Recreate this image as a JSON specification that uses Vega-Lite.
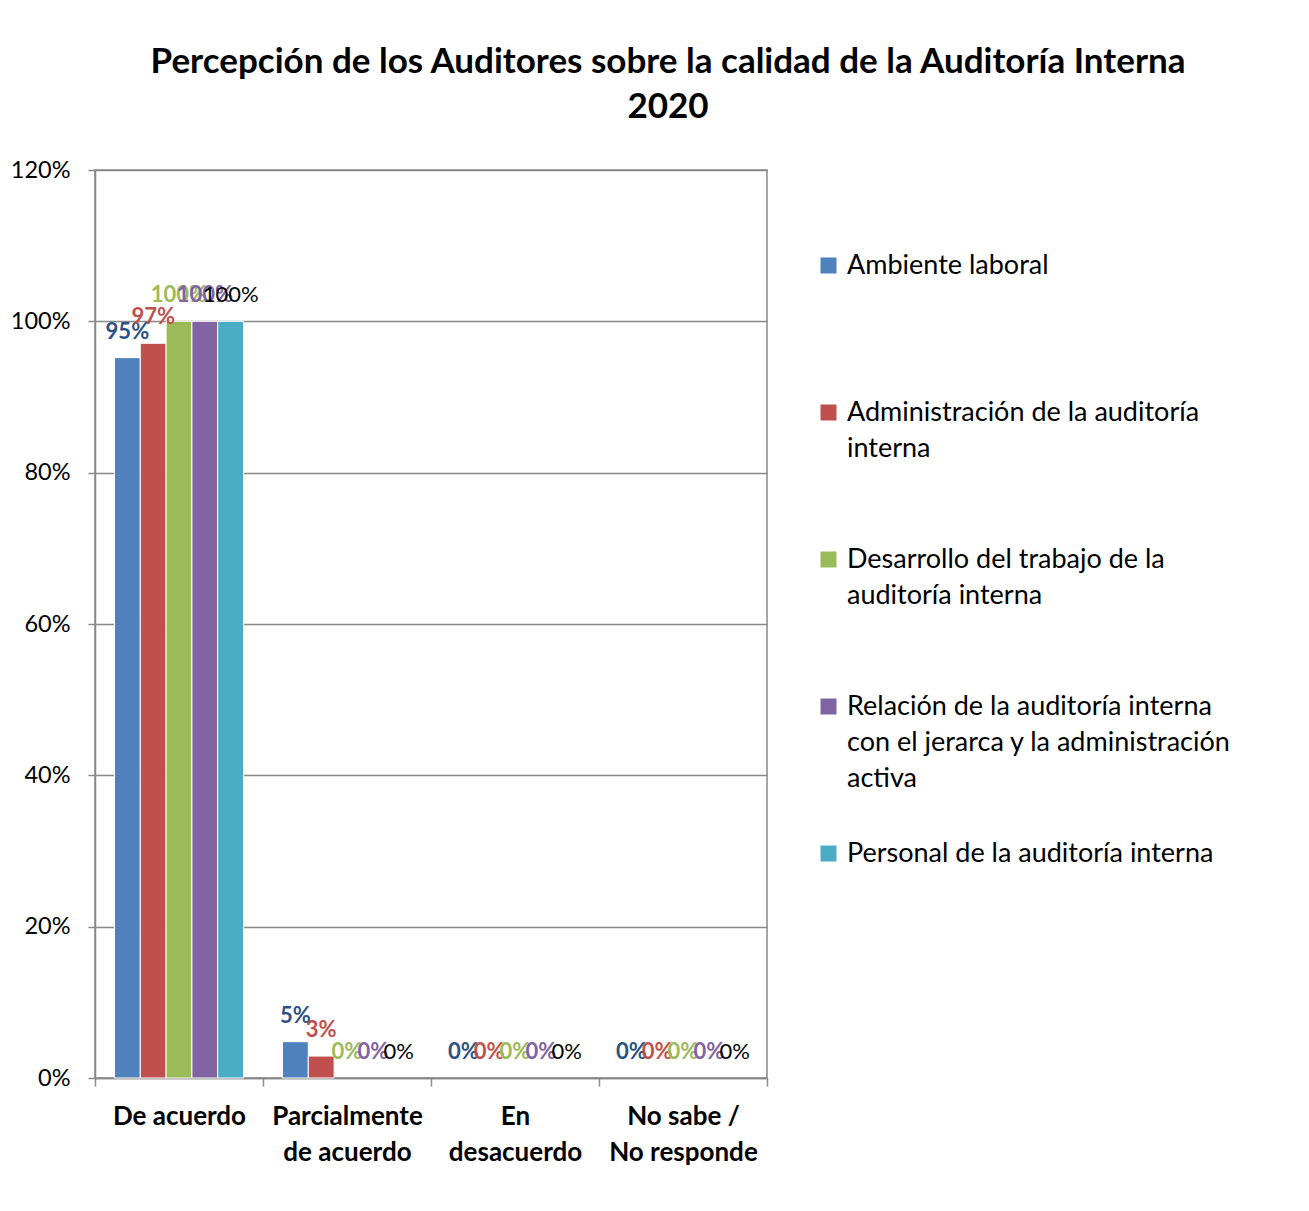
{
  "$schema": "https://vega.github.io/schema/vega-lite/v6.json",
  "autosize": "none",
  "width": 672,
  "height": 908,
  "padding": {"left": 95, "top": 170, "right": 542, "bottom": 133},
  "background": "white",
  "title": {
    "text": ["Percepción  de los Auditores sobre la calidad de la Auditoría Interna", "2020"],
    "font": "Lato",
    "fontSize": 35,
    "fontWeight": "bold",
    "color": "black",
    "anchor": "middle",
    "frame": "group",
    "dx": 237,
    "lineHeight": 45,
    "offset": 33
  },
  "data": {
    "values": [
      {"categoria": "De acuerdo", "serie": "Ambiente laboral", "valor": 0.952},
      {"categoria": "De acuerdo", "serie": "Administración de la auditoría interna", "valor": 0.971},
      {"categoria": "De acuerdo", "serie": "Desarrollo del trabajo de la auditoría interna", "valor": 1.0},
      {"categoria": "De acuerdo", "serie": "Relación de la auditoría interna con el jerarca y la administración activa", "valor": 1.0},
      {"categoria": "De acuerdo", "serie": "Personal de la auditoría interna", "valor": 1.0},
      {"categoria": "Parcialmente de acuerdo", "serie": "Ambiente laboral", "valor": 0.048},
      {"categoria": "Parcialmente de acuerdo", "serie": "Administración de la auditoría interna", "valor": 0.029},
      {"categoria": "Parcialmente de acuerdo", "serie": "Desarrollo del trabajo de la auditoría interna", "valor": 0},
      {"categoria": "Parcialmente de acuerdo", "serie": "Relación de la auditoría interna con el jerarca y la administración activa", "valor": 0},
      {"categoria": "Parcialmente de acuerdo", "serie": "Personal de la auditoría interna", "valor": 0},
      {"categoria": "En desacuerdo", "serie": "Ambiente laboral", "valor": 0},
      {"categoria": "En desacuerdo", "serie": "Administración de la auditoría interna", "valor": 0},
      {"categoria": "En desacuerdo", "serie": "Desarrollo del trabajo de la auditoría interna", "valor": 0},
      {"categoria": "En desacuerdo", "serie": "Relación de la auditoría interna con el jerarca y la administración activa", "valor": 0},
      {"categoria": "En desacuerdo", "serie": "Personal de la auditoría interna", "valor": 0},
      {"categoria": "No sabe / No responde", "serie": "Ambiente laboral", "valor": 0},
      {"categoria": "No sabe / No responde", "serie": "Administración de la auditoría interna", "valor": 0},
      {"categoria": "No sabe / No responde", "serie": "Desarrollo del trabajo de la auditoría interna", "valor": 0},
      {"categoria": "No sabe / No responde", "serie": "Relación de la auditoría interna con el jerarca y la administración activa", "valor": 0},
      {"categoria": "No sabe / No responde", "serie": "Personal de la auditoría interna", "valor": 0}
    ]
  },
  "encoding": {
    "x": {
      "field": "categoria",
      "type": "nominal",
      "sort": ["De acuerdo", "Parcialmente de acuerdo", "En desacuerdo", "No sabe / No responde"],
      "scale": {"paddingInner": 0, "paddingOuter": 0},
      "axis": {
        "title": null,
        "labelAngle": 0,
        "labelFont": "Lato",
        "labelFontSize": 26,
        "labelFontWeight": "bold",
        "labelColor": "black",
        "labelBaseline": "top",
        "labelLineHeight": 36,
        "labelPadding": 17,
        "labelLimit": 300,
        "tickBand": "extent",
        "tickSize": 8,
        "tickColor": "#888888",
        "tickWidth": 1.5,
        "domainColor": "#888888",
        "domainWidth": 1.5,
        "grid": false,
        "labelExpr": "datum.value == 'Parcialmente de acuerdo' ? ['Parcialmente', 'de acuerdo'] : datum.value == 'En desacuerdo' ? ['En', 'desacuerdo'] : datum.value == 'No sabe / No responde' ? ['No sabe /', 'No responde'] : datum.value"
      }
    },
    "xOffset": {
      "field": "serie",
      "type": "nominal",
      "sort": ["Ambiente laboral", "Administración de la auditoría interna", "Desarrollo del trabajo de la auditoría interna", "Relación de la auditoría interna con el jerarca y la administración activa", "Personal de la auditoría interna"],
      "scale": {"paddingInner": 0, "paddingOuter": 0.755}
    },
    "y": {
      "field": "valor",
      "type": "quantitative",
      "scale": {"domain": [0, 1.2], "nice": false},
      "axis": {
        "title": null,
        "format": ".0%",
        "values": [0, 0.2, 0.4, 0.6, 0.8, 1.0, 1.2],
        "labelFont": "Lato",
        "labelFontSize": 23.5,
        "labelColor": "black",
        "labelPadding": 18,
        "tickSize": 7,
        "tickColor": "#888888",
        "tickWidth": 1.5,
        "domainColor": "#888888",
        "domainWidth": 1.5,
        "grid": true,
        "gridColor": "#888888",
        "gridWidth": 1.5
      }
    }
  },
  "layer": [
    {
      "transform": [{"filter": "datum.valor > 0"}],
      "mark": {"type": "bar", "stroke": "white", "strokeWidth": 1},
      "encoding": {
        "color": {
          "field": "serie",
          "type": "nominal",
          "sort": ["Ambiente laboral", "Administración de la auditoría interna", "Desarrollo del trabajo de la auditoría interna", "Relación de la auditoría interna con el jerarca y la administración activa", "Personal de la auditoría interna"],
          "scale": {"range": ["#4F81BD", "#C0504D", "#9BBB59", "#8064A2", "#4BACC6"]},
          "legend": {
            "title": null,
            "orient": "none",
            "legendX": 720,
            "legendY": 64,
            "direction": "vertical",
            "padding": 0,
            "labelFont": "Lato",
            "labelFontSize": 27,
            "labelColor": "black",
            "labelBaseline": "line-top",
            "labelLimit": 500,
            "labelOffset": 5,
            "rowPadding": 30,
            "symbolType": "M-1,1.25H1V3.25H-1Z",
            "symbolSize": 256,
            "symbolStrokeWidth": 0,
            "labelExpr": "datum.value == 'Administración de la auditoría interna' ? ['Administración de la auditoría', 'interna', ''] : datum.value == 'Desarrollo del trabajo de la auditoría interna' ? ['Desarrollo del trabajo de la', 'auditoría interna', ''] : datum.value == 'Relación de la auditoría interna con el jerarca y la administración activa' ? ['Relación de la auditoría interna', 'con el jerarca y la administración', 'activa'] : [datum.value, '', '']"
          }
        }
      }
    },
    {
      "transform": [{"filter": "datum.serie != 'Personal de la auditoría interna'"}],
      "mark": {"type": "text", "font": "Lato", "fontSize": 22, "fontWeight": "bold", "baseline": "middle", "dy": -26},
      "encoding": {
        "text": {"field": "valor", "type": "quantitative", "format": ".0%"},
        "color": {
          "field": "serie",
          "type": "nominal",
          "sort": ["Ambiente laboral", "Administración de la auditoría interna", "Desarrollo del trabajo de la auditoría interna", "Relación de la auditoría interna con el jerarca y la administración activa"],
          "scale": {"range": ["#2A5286", "#C0504D", "#9BBB59", "#8064A2"]},
          "legend": null
        }
      }
    },
    {
      "transform": [{"filter": "datum.serie == 'Personal de la auditoría interna'"}],
      "mark": {"type": "text", "font": "Lato", "fontSize": 22, "fontWeight": "normal", "color": "black", "baseline": "middle", "dy": -26},
      "encoding": {
        "text": {"field": "valor", "type": "quantitative", "format": ".0%"}
      }
    }
  ],
  "resolve": {"scale": {"color": "independent"}},
  "config": {
    "view": {"stroke": "#888888", "strokeWidth": 1.5},
    "style": {"guide-label": {"lineHeight": 36}}
  }
}
